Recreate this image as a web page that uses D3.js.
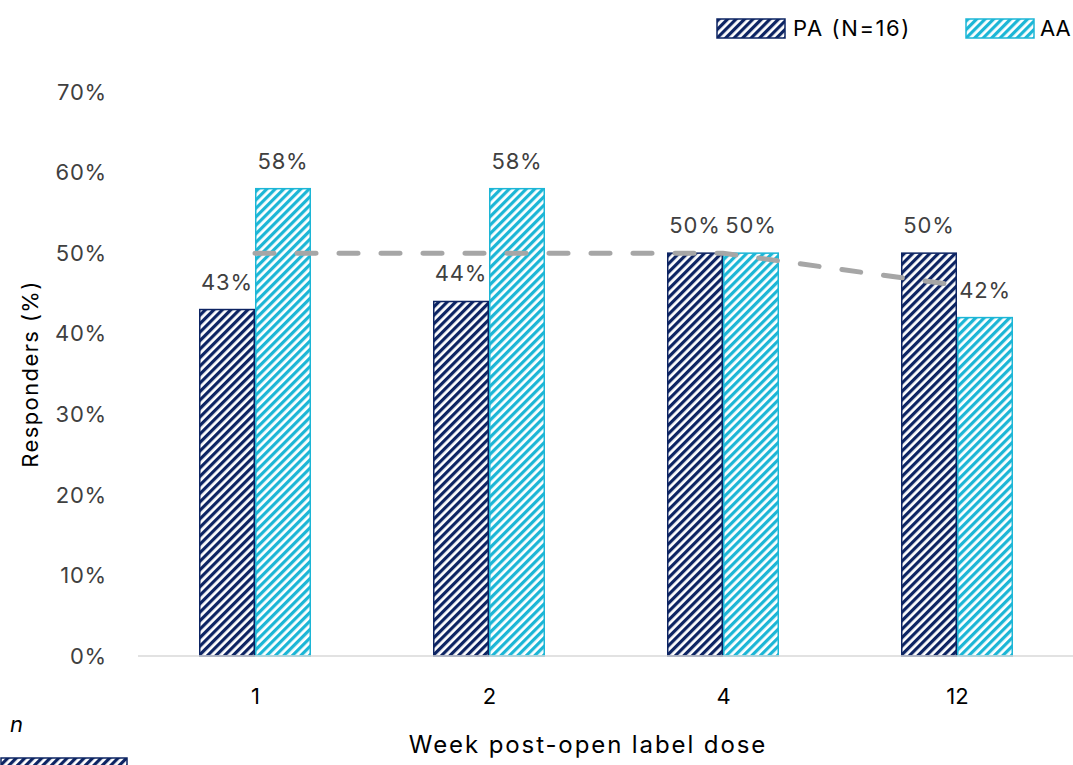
<!DOCTYPE html>
<html>
<head>
<meta charset="utf-8">
<script src="https://cdn.jsdelivr.net/npm/d3@7/dist/d3.min.js"></script>
<style>
  html, body { margin: 0; padding: 0; background: #fff; }
  svg { display: block; font-family: "Inter", "Open Sans", sans-serif; }
</style>
</head>
<body>
<svg id="chart" width="1073" height="765"></svg>
<script>
// Responder rates by week after the open-label dose
const weeks = ["1", "2", "4", "12"];
const paValues = [43, 44, 50, 50];      // PA (N=16), %
const aaValues = [58, 58, 50, 42];      // AA, %
const overallValues = [50, 50, 50, 46]; // dashed trend, %
const yTicks = [0, 10, 20, 30, 40, 50, 60, 70];
const seriesNames = ["PA (N=16)", "AA"];

const svg = d3.select("#chart");
const W = 1073, H = 765;

const colors = { pa: "#0d2463", aa: "#1cb6d6" };

// Diagonal hatch patterns for the bars
const defs = svg.append("defs");
function hatch(id, color) {
  const p = defs.append("pattern")
    .attr("id", id)
    .attr("patternUnits", "userSpaceOnUse")
    .attr("width", 6).attr("height", 6)
    .attr("patternTransform", "rotate(45)");
  p.append("rect").attr("width", 6).attr("height", 6).attr("fill", "#fff");
  p.append("rect").attr("x", 0).attr("width", 3.2).attr("height", 6).attr("fill", color);
}
hatch("hatch-pa", colors.pa);
hatch("hatch-aa", colors.aa);

const xCenter = d3.scalePoint().domain(weeks).range([138 + 117, 1074 - 117]);
const y = d3.scaleLinear().domain([0, 70]).range([656, 92]);

const groupW = 112;
const sub = d3.scaleBand().domain(["pa", "aa"]).range([0, groupW]);

// Y tick labels (no axis line)
svg.append("g").selectAll("text").data(yTicks).join("text")
  .attr("x", 107).attr("y", d => y(d))
  .attr("dy", "0.35em")
  .attr("text-anchor", "end")
  .attr("font-size", 22)
  .attr("letter-spacing", 0.8)
  .attr("fill", "#404040")
  .text(d => d + "%");

// Bars
const rows = weeks.map((w, i) => ({ week: w, pa: paValues[i], aa: aaValues[i] }));
const groups = svg.append("g").selectAll("g").data(rows).join("g")
  .attr("transform", d => `translate(${xCenter(d.week) - groupW / 2},0)`);

["pa", "aa"].forEach(k => {
  groups.append("rect")
    .attr("x", sub(k) + 0.75)
    .attr("y", d => y(d[k]))
    .attr("width", sub.bandwidth() - 1.5)
    .attr("height", d => y(0) - y(d[k]))
    .attr("fill", `url(#hatch-${k})`)
    .attr("stroke", colors[k])
    .attr("stroke-width", 1.5);
  groups.append("text")
    .attr("x", sub(k) + sub.bandwidth() / 2)
    .attr("y", d => y(d[k]) - 20)
    .attr("text-anchor", "middle")
    .attr("font-size", 22)
    .attr("letter-spacing", 0.8)
    .attr("fill", "#404040")
    .text(d => d[k] + "%");
});

// X axis with light baseline
const xAxis = d3.axisBottom(xCenter).tickSize(0).tickPadding(32);
const gx = svg.append("g").attr("transform", `translate(0,${y(0)})`).call(xAxis);
gx.select(".domain").remove();
gx.append("line").attr("x1", 138).attr("x2", W).attr("y1", 0).attr("y2", 0)
  .attr("stroke", "#d9d9d9").attr("stroke-width", 1.5);
gx.selectAll(".tick text")
  .attr("font-size", 22).attr("fill", "#000")
  .attr("font-family", "Inter, sans-serif");

// Dashed trend line
const line = d3.line().x((d, i) => xCenter(weeks[i])).y(d => y(d));
svg.append("path")
  .datum(overallValues)
  .attr("d", line)
  .attr("fill", "none")
  .attr("stroke", "#a6a6a6")
  .attr("stroke-width", 5)
  .attr("stroke-linecap", "round")
  .attr("stroke-dasharray", "19,23");

// Axis titles
svg.append("text")
  .attr("transform", `translate(38,${374}) rotate(-90)`)
  .attr("text-anchor", "middle")
  .attr("font-size", 22)
  .attr("letter-spacing", 1.4)
  .attr("fill", "#000")
  .text("Responders (%)");

svg.append("text")
  .attr("x", 588).attr("y", 753)
  .attr("text-anchor", "middle")
  .attr("font-size", 24)
  .attr("letter-spacing", 1.9)
  .attr("fill", "#000")
  .text("Week post-open label dose");

// Legend
const legendX = [717, 966];
const legend = svg.append("g").selectAll("g").data(["pa", "aa"]).join("g")
  .attr("transform", (d, i) => `translate(${legendX[i]},19)`);
legend.append("rect")
  .attr("width", 68).attr("height", 19)
  .attr("fill", d => `url(#hatch-${d})`)
  .attr("stroke", d => colors[d]).attr("stroke-width", 1.5);
legend.append("text")
  .attr("x", (d, i) => i === 0 ? 76 : 74).attr("y", 9.5).attr("dy", "0.35em")
  .attr("font-size", 22)
  .attr("letter-spacing", (d, i) => i === 0 ? 1.6 : 0)
  .attr("fill", "#000")
  .text((d, i) => seriesNames[i]);

// Table row marker below the chart
svg.append("text")
  .attr("x", 10).attr("y", 732)
  .attr("font-size", 22).attr("font-style", "italic")
  .attr("fill", "#000")
  .text("n");
svg.append("rect")
  .attr("x", 1).attr("y", 758).attr("width", 126).attr("height", 12)
  .attr("fill", "url(#hatch-pa)")
  .attr("stroke", colors.pa).attr("stroke-width", 1.5);
</script>
</body>
</html>
